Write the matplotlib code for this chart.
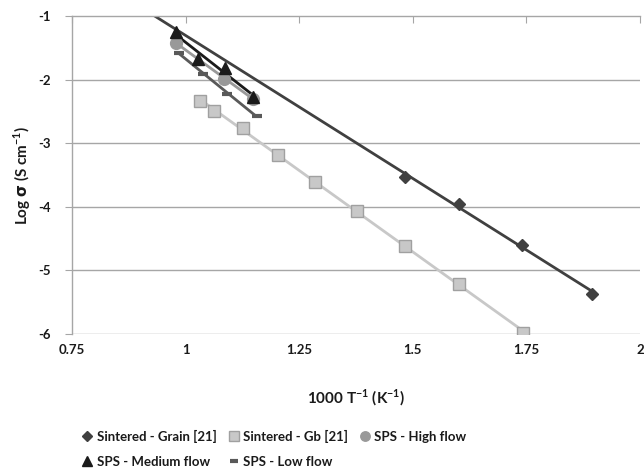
import numpy as np
import matplotlib
matplotlib.use("Agg")
import matplotlib.pyplot as plt
from matplotlib.lines import Line2D

plt.rcParams['font.family'] = ['Lato', 'DejaVu Sans']
plt.rcParams['font.weight'] = 'bold'
plt.rcParams['axes.unicode_minus'] = False
plt.rcParams['mathtext.fontset'] = 'custom'
plt.rcParams['mathtext.rm'] = 'Lato:bold'
plt.rcParams['mathtext.it'] = 'DejaVu Sans'
plt.rcParams['mathtext.bf'] = 'Lato:bold'

# Data
grain_x = [1.483, 1.602, 1.741, 1.895]
grain_y = [-3.53, -3.96, -4.60, -5.37]

gb_x = [1.032, 1.063, 1.127, 1.203, 1.285, 1.378, 1.483, 1.602, 1.743]
gb_y = [-2.34, -2.49, -2.76, -3.19, -3.61, -4.07, -4.61, -5.22, -5.98]

high_x = [0.979, 1.085, 1.149]
high_y = [-1.42, -1.99, -2.30]

med_x = [0.979, 1.027, 1.087, 1.149]
med_y = [-1.25, -1.67, -1.82, -2.27]

low_x = [0.986, 1.039, 1.092, 1.157]
low_y = [-1.58, -1.91, -2.23, -2.57]

x_ticks = [0.75, 1, 1.25, 1.5, 1.75, 2]
x_ticklabels = ['0.75', '1', '1.25', '1.5', '1.75', '2']
y_ticks = [-6, -5, -4, -3, -2, -1]
y_ticklabels = ['-6', '-5', '-4', '-3', '-2', '-1']

fig = plt.figure(figsize=(6.44, 4.71), dpi=100)
ax = fig.add_axes([72/644, 1-334/471, (640-72)/644, (334-16)/471])

axis_gray = '#a6a6a6'
for y in y_ticks[:-1]:
    ax.axhline(y, color=axis_gray, lw=1.0, zorder=1)


def trend(xs, ys, back=0.0):
    p = np.polyfit(xs, ys, 1)
    xx = np.array([min(xs) - back, max(xs)])
    return xx, np.polyval(p, xx)

series = [
    (grain_x, grain_y, dict(marker='D', ms=6.5, mfc='#404040', mec='#404040'), '#404040', 0.6, 'Sintered - Grain [21]'),
    (gb_x, gb_y, dict(marker='s', ms=9, mfc='#c8c8c8', mec='#a0a0a0', mew=1.0), '#c8c8c8', 0.0, 'Sintered - Gb [21]'),
    (high_x, high_y, dict(marker='o', ms=8.5, mfc='#999999', mec='#999999'), '#999999', 0.0, 'SPS - High flow'),
    (med_x, med_y, dict(marker='^', ms=9, mfc='#1a1a1a', mec='#1a1a1a'), '#1a1a1a', 0.0, 'SPS - Medium flow'),
    (low_x, low_y, dict(marker='_', ms=7, mfc='#595959', mec='#595959', mew=3), '#595959', 0.0, 'SPS - Low flow'),
]

handles = {}
for xs, ys, mk, lc, back, lab in series:
    tx, ty = trend(xs, ys, back)
    ax.plot(tx, ty, color=lc, lw=2.0, zorder=2, solid_capstyle='butt')
    ax.plot(xs, ys, ls='none', zorder=3, **mk)
    handles[lab] = Line2D([], [], ls='none', **{**mk, 'ms': mk['ms'] * 0.8})

ax.set_xlim(0.75, 2)
ax.set_ylim(-6, -1)
ax.set_xticks(x_ticks)
ax.set_xticklabels(x_ticklabels, fontweight='bold')
ax.set_yticks(y_ticks)
ax.set_yticklabels(y_ticklabels, fontweight='bold')

for s in ['bottom', 'right']:
    ax.spines[s].set_visible(False)
for s in ['top', 'left']:
    ax.spines[s].set_color(axis_gray)
    ax.spines[s].set_linewidth(1.0)

ax.tick_params(axis='x', top=True, bottom=False, labeltop=False, labelbottom=True,
               direction='in', length=5, color=axis_gray, pad=7, labelsize=9.5, labelcolor='#1a1a1a')
ax.tick_params(axis='y', direction='out', length=5, color=axis_gray, pad=10, labelsize=9.5, labelcolor='#1a1a1a')

ax.set_xlabel('1000 T$^{-1}$ (K$^{-1}$)', fontsize=11, fontweight='bold', color='#1a1a1a', va='center')
ax.set_ylabel(r'Log $\sigma$ (S cm$^{-1}$)', fontsize=11, fontweight='bold', color='#1a1a1a', va='center')
ax.xaxis.set_label_coords(0.5, (334 - 398) / 318)
ax.yaxis.set_label_coords((22 - 72) / 568, 0.5)

order = ['Sintered - Grain [21]', 'SPS - Medium flow', 'Sintered - Gb [21]', 'SPS - Low flow', 'SPS - High flow']
leg = fig.legend([handles[k] for k in order], order, loc='upper left', bbox_to_anchor=(82/644, 1-430/471),
                 ncol=3, frameon=False, fontsize=9.5, handlelength=0.8, handletextpad=0.3,
                 columnspacing=0.9, labelspacing=0.95, borderaxespad=0, borderpad=0)
for t in leg.get_texts():
    t.set_fontweight('bold')
    t.set_color('#1a1a1a')

fig.savefig('out.png', dpi=100)
